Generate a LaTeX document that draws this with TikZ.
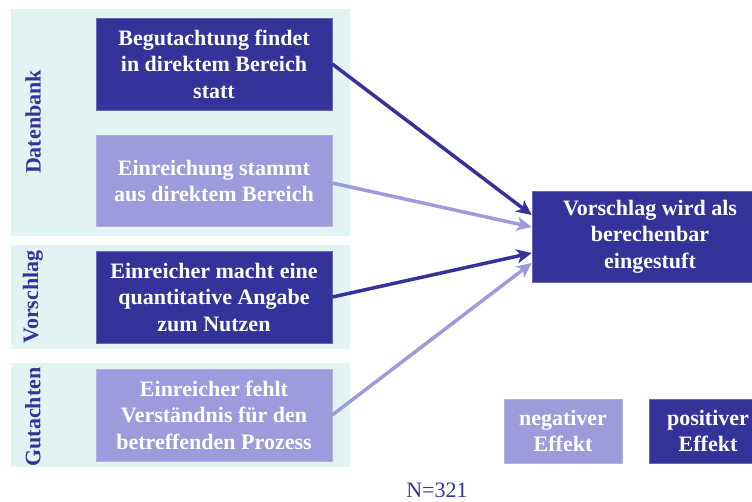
\documentclass[tikz,border=0pt]{standalone}
\usepackage{fontspec}
\setmainfont{Liberation Serif}
\usetikzlibrary{arrows.meta}
\definecolor{darkfx}{HTML}{35339A}
\definecolor{lightfx}{HTML}{9E9BDC}
\definecolor{panelbg}{HTML}{E2F3F3}
\tikzset{
  panel/.style={fill=panelbg, draw=none},
  effbox/.style={minimum width=236pt, minimum height=92pt, inner sep=0pt,
    align=center, text=white, font=\fontsize{22}{26.5}\selectfont\bfseries},
  posbox/.style={effbox, fill=darkfx, draw=darkfx!75!white, line width=0.6pt},
  negbox/.style={effbox, fill=lightfx, draw=lightfx!80!white, line width=0.6pt},
  grouplabel/.style={rotate=90, text=darkfx, font=\fontsize{22}{26}\selectfont\bfseries},
  posarrow/.style={draw=darkfx, line width=3.5pt, -{Stealth[length=15pt,width=14pt,inset=4pt]}},
  negarrow/.style={draw=lightfx, line width=3.5pt, -{Stealth[length=15pt,width=14pt,inset=4pt]}},
}
\begin{document}
\begin{tikzpicture}[x=1pt,y=-1pt]
\useasboundingbox (0,0) rectangle (752,501);
\clip (0,0) rectangle (752,501);

% group panels
\fill[panel] (11,9) rectangle (350,236);
\fill[panel] (11,245) rectangle (350,349);
\fill[panel] (11,363) rectangle (350,467);

\node[grouplabel] (gdb) at (33,122) {Datenbank};
\node[grouplabel] (gvs) at (33,297) {Vorschlag};
\node[grouplabel] (ggu) at (33,417) {Gutachten};

% factors
\node[posbox] (b1) at (214,64) {Begutachtung findet\\in direktem Bereich\\statt};
\node[negbox, minimum height=91pt] (b2) at (214,181) {Einreichung stammt\\aus direktem Bereich};
\node[posbox] (b3) at (214,297) {Einreicher macht eine\\quantitative Angabe\\zum Nutzen};
\node[negbox] (b4) at (214,415) {Einreicher fehlt\\Verständnis für den\\betreffenden Prozess};

% outcome
\node[posbox, minimum height=91pt] (t) at (650,236.5) {Vorschlag wird als\\berechenbar\\eingestuft};

% connectors
\draw[posarrow] (b1.east) -- ([yshift=21.5pt]t.west);
\draw[negarrow] ([yshift=-2pt]b2.east) -- ([yshift=9.5pt]t.west);
\draw[posarrow] (b3.east) -- ([yshift=-16.5pt]t.west);
\draw[negarrow] (b4.east) -- ([yshift=-26.5pt]t.west);

% legend
\node[negbox, minimum width=118pt, minimum height=64pt] (ln) at (563,431) {negativer\\Effekt};
\node[posbox, minimum width=118pt, minimum height=64pt] (lp) at (708,431) {positiver\\Effekt};

\node[text=darkfx, font=\fontsize{22}{26}\selectfont] (n) at (437,490) {N=321};
\end{tikzpicture}
\end{document}
